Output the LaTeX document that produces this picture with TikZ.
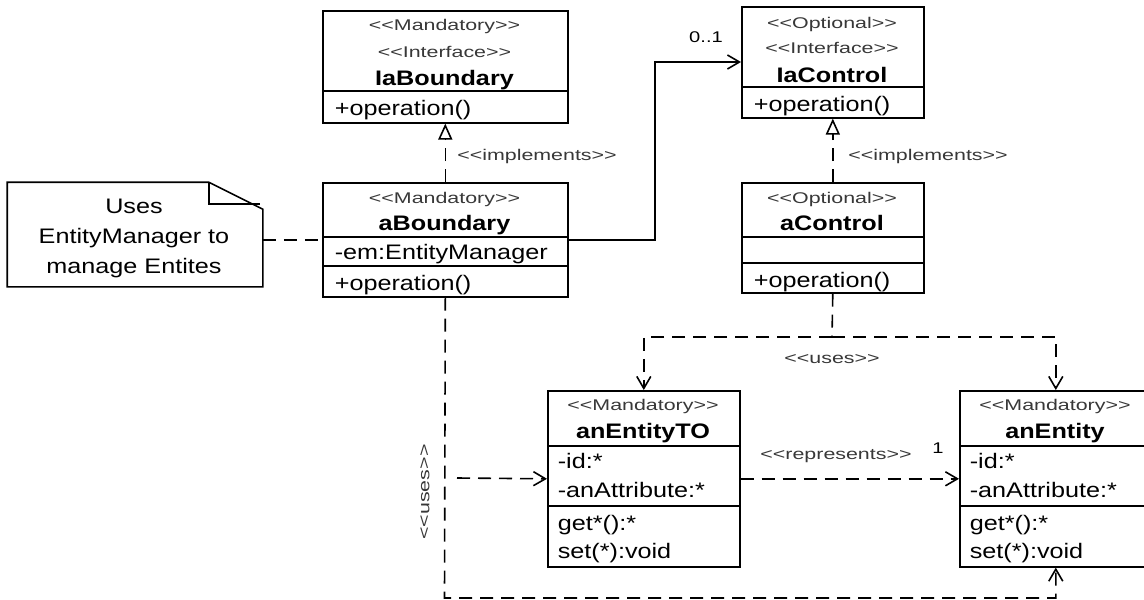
\documentclass[tikz,border=0pt]{standalone}
\usepackage{fontspec}
\setmainfont{Liberation Sans}[FakeStretch=1.2, Ligatures=TeXOff]
\newfontfamily\stereofont{Liberation Sans}[FakeStretch=1.38, Ligatures=TeXOff]
\newfontfamily\multfont{Liberation Sans}[FakeStretch=1.3, Ligatures=TeXOff]
\usetikzlibrary{arrows.meta}

\begin{document}
\begin{tikzpicture}[x=1pt, y=-1pt, line width=1.6pt,
  classbox/.style={draw, line width=1.6pt, inner sep=0pt, anchor=north west},
  txt/.style={inner sep=0pt, anchor=base, font=\fontsize{21}{25}\selectfont},
  member/.style={txt, anchor=base west},
  title/.style={txt, font=\fontsize{21}{25}\selectfont\bfseries},
  stereo/.style={inner sep=0pt, anchor=base, text=black!78,
    font=\stereofont\fontsize{15.5}{18}\selectfont},
  mult/.style={inner sep=0pt, anchor=base, font=\multfont\fontsize{15.5}{18}\selectfont},
  dep/.style={dash pattern=on 13pt off 8pt},
  openhead/.style={-{Straight Barb[length=12pt,width=14pt]}},
  realize/.style={dep, -{Triangle[open,length=16pt,width=14pt]}},
]
\useasboundingbox (0,0) rectangle (1144,600);
\clip (0,0) rectangle (1144,600);
\fill[white] (0,0) rectangle (1144,600);

% ---- IaBoundary
\node[classbox, minimum width=245pt, minimum height=112pt] (IaBoundary) at (322,10) {};
\draw (IaBoundary.west |- 0,91) -- (IaBoundary.east |- 0,91);
\node[stereo] (ibS1) at (444.5,30) {<<Mandatory>>};
\node[stereo] (ibS2) at (444.5,57) {<<Interface>>};
\node[title] (ibT) at (444.5,85) {IaBoundary};
\node[member] (ibOp) at (334,115) {+operation()};

% ---- aBoundary
\node[classbox, minimum width=245pt, minimum height=114pt] (aBoundary) at (322,182) {};
\draw (aBoundary.west |- 0,237) -- (aBoundary.east |- 0,237);
\draw (aBoundary.west |- 0,266) -- (aBoundary.east |- 0,266);
\node[stereo] (abS1) at (444.5,203) {<<Mandatory>>};
\node[title] (abT) at (444.5,230) {aBoundary};
\node[member] (abAttr) at (334,259) {-em:EntityManager};
\node[member] (abOp) at (334,290) {+operation()};

% ---- IaControl
\node[classbox, minimum width=182pt, minimum height=111pt] (IaControl) at (741,6) {};
\draw (IaControl.west |- 0,87) -- (IaControl.east |- 0,87);
\node[stereo] (icS1) at (832,28) {<<Optional>>};
\node[stereo] (icS2) at (832,53) {<<Interface>>};
\node[title] (icT) at (832,82) {IaControl};
\node[member] (icOp) at (753,111) {+operation()};

% ---- aControl
\node[classbox, minimum width=182pt, minimum height=110pt] (aControl) at (741,182) {};
\draw (aControl.west |- 0,237) -- (aControl.east |- 0,237);
\draw (aControl.west |- 0,263) -- (aControl.east |- 0,263);
\node[stereo] (acS1) at (832,203) {<<Optional>>};
\node[title] (acT) at (832,230) {aControl};
\node[member] (acOp) at (753,287) {+operation()};

% ---- anEntityTO
\node[classbox, minimum width=192pt, minimum height=176pt] (anEntityTO) at (547,390) {};
\draw (anEntityTO.west |- 0,446) -- (anEntityTO.east |- 0,446);
\draw (anEntityTO.west |- 0,506) -- (anEntityTO.east |- 0,506);
\node[stereo] (toS1) at (643,410) {<<Mandatory>>};
\node[title] (toT) at (643,438) {anEntityTO};
\node[member] (toA1) at (557,468) {-id:*};
\node[member] (toA2) at (557,497) {-anAttribute:*};
\node[member] (toM1) at (557,530) {get*():*};
\node[member] (toM2) at (557,558) {set(*):void};

% ---- anEntity
\node[classbox, minimum width=192pt, minimum height=176pt] (anEntity) at (959,390) {};
\draw (anEntity.west |- 0,446) -- (anEntity.east |- 0,446);
\draw (anEntity.west |- 0,506) -- (anEntity.east |- 0,506);
\node[stereo] (enS1) at (1055,410) {<<Mandatory>>};
\node[title] (enT) at (1055,438) {anEntity};
\node[member] (enA1) at (969,468) {-id:*};
\node[member] (enA2) at (969,497) {-anAttribute:*};
\node[member] (enM1) at (969,530) {get*():*};
\node[member] (enM2) at (969,558) {set(*):void};

% ---- note with folded corner
\node[inner sep=0pt, minimum width=254pt, minimum height=103pt] (note) at (135,234.5) {};
\draw (note.south west) -- (note.north west) -- ([xshift=-54pt]note.north east)
  -- ([yshift=-27pt]note.north east) -- (note.south east) -- cycle;
\draw ([xshift=-54pt]note.north east) -- ++(0,22) -- ++(51,0);
\node[txt] (noteL1) at (134,213) {Uses};
\node[txt] (noteL2) at (134,243) {EntityManager to};
\node[txt] (noteL3) at (134,273) {manage Entites};
\draw[dep] (note.east |- aBoundary.west) -- (aBoundary.west);

% ---- realizations
\draw[realize] (aBoundary.north) -- (IaBoundary.south);
\draw[realize] (aControl.north) -- (IaControl.south);
\node[stereo] (implL) at (537,160) {<<implements>>};
\node[stereo] (implR) at (928,160) {<<implements>>};

% ---- association aBoundary -> IaControl
\coordinate (assocBend) at (655,62);
\draw[openhead] (aBoundary.east) -| (assocBend) -- (assocBend -| IaControl.west);
\node[mult] (multA) at (706,42) {0..1};

% ---- aControl uses the entities
\coordinate (usesFork) at (832,337);
\draw[dep] (aControl.south) -- (usesFork);
\draw[dep, openhead] (usesFork) -| (anEntityTO.north);
\draw[dep, openhead] (usesFork) -| (anEntity.north);
\node[stereo] (usesC) at (832,363) {<<uses>>};

% ---- aBoundary uses the entities
\coordinate (usesCorner) at (444.5,598);
\draw[dep, openhead] (aBoundary.south) -- (usesCorner) -| (anEntity.south);
\coordinate (usesTail) at (457,478);
\draw[dep, openhead] (usesTail) -- (anEntityTO.west);
\node[stereo, anchor=center, rotate=90] (usesB) at (425,492) {<<uses>>};

% ---- representation
\draw[dep, openhead] (anEntityTO.east) -- (anEntity.west);
\node[stereo] (reprL) at (836,459) {<<represents>>};
\node[mult] (multR) at (938,453) {1};
\end{tikzpicture}
\end{document}
